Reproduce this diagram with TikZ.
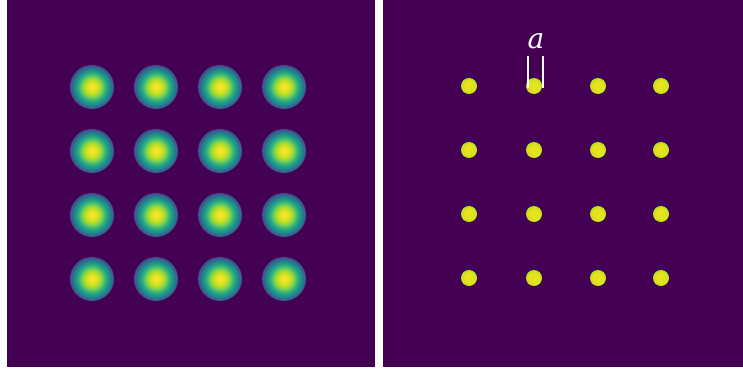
\documentclass[tikz,border=0pt]{standalone}
\usepackage{fontspec}
\newfontfamily\labelfont{DejaVu Serif}
\definecolor{bgpurple}{HTML}{440154}
\definecolor{vA}{HTML}{FDE725}
\definecolor{vB}{HTML}{BDDF26}
\definecolor{vC}{HTML}{7AD151}
\definecolor{vD}{HTML}{44BF70}
\definecolor{vE}{HTML}{22A884}
\definecolor{vF}{HTML}{21918C}
\definecolor{vG}{HTML}{2A788E}
\definecolor{vH}{HTML}{355F8D}
\definecolor{vI}{HTML}{3B528B}
\definecolor{dotA}{HTML}{E3E41A}
\definecolor{dotB}{HTML}{BFDF26}
\pgfdeclareradialshading{viridisblob}{\pgfpoint{0bp}{0bp}}{%
color(0bp)=(vA); color(1.5bp)=(vA); color(8bp)=(vB); color(11.5bp)=(vC); color(14bp)=(vD);
color(16.5bp)=(vE); color(19bp)=(vF); color(21.3bp)=(vG); color(23.6bp)=(vH);
color(25bp)=(vI); color(50bp)=(vI)}
\pgfdeclareradialshading{dotshade}{\pgfpoint{0bp}{0bp}}{%
color(0bp)=(dotA); color(15bp)=(dotA); color(25bp)=(dotB); color(50bp)=(dotB)}
\tikzset{
  panel/.style={fill=bgpurple, draw=none},
  blob/.style={circle, minimum size=44pt, inner sep=0pt, draw=none, shading=viridisblob},
  spot/.style={circle, minimum size=16pt, inner sep=0pt, draw=none, shading=dotshade},
  bracket/.style={draw=white, line width=2pt},
  lbl/.style={text=white, inner sep=0pt, font=\labelfont\itshape\fontsize{28}{28}\selectfont}
}
\begin{document}
\begin{tikzpicture}[x=1pt, y=-1pt]
\useasboundingbox (0,0) rectangle (743,372);
\fill[white] (0,0) rectangle (743,372);
\fill[panel] (7,0) rectangle (375,367);
\fill[panel] (383,0) rectangle (743,367);
\foreach \i/\x in {0/92,1/156,2/220,3/284} {
  \foreach \j/\y in {0/87,1/151,2/215,3/279} {
    \node[blob] (b\i\j) at (\x,\y) {};
  }
}
\foreach \i/\x in {0/469,1/534,2/598,3/661} {
  \foreach \j/\y in {0/86,1/150,2/214,3/278} {
    \node[spot] (s\i\j) at (\x,\y) {};
  }
}
\coordinate (bl1) at (527.5,56);
\coordinate (bl2) at (527.5,88);
\coordinate (br1) at (542.5,56);
\coordinate (br2) at (542.5,88);
\draw[bracket] (bl1) -- (bl2);
\draw[bracket] (br1) -- (br2);
\node[lbl] (alabel) at (536,41) {a};
\end{tikzpicture}
\end{document}
